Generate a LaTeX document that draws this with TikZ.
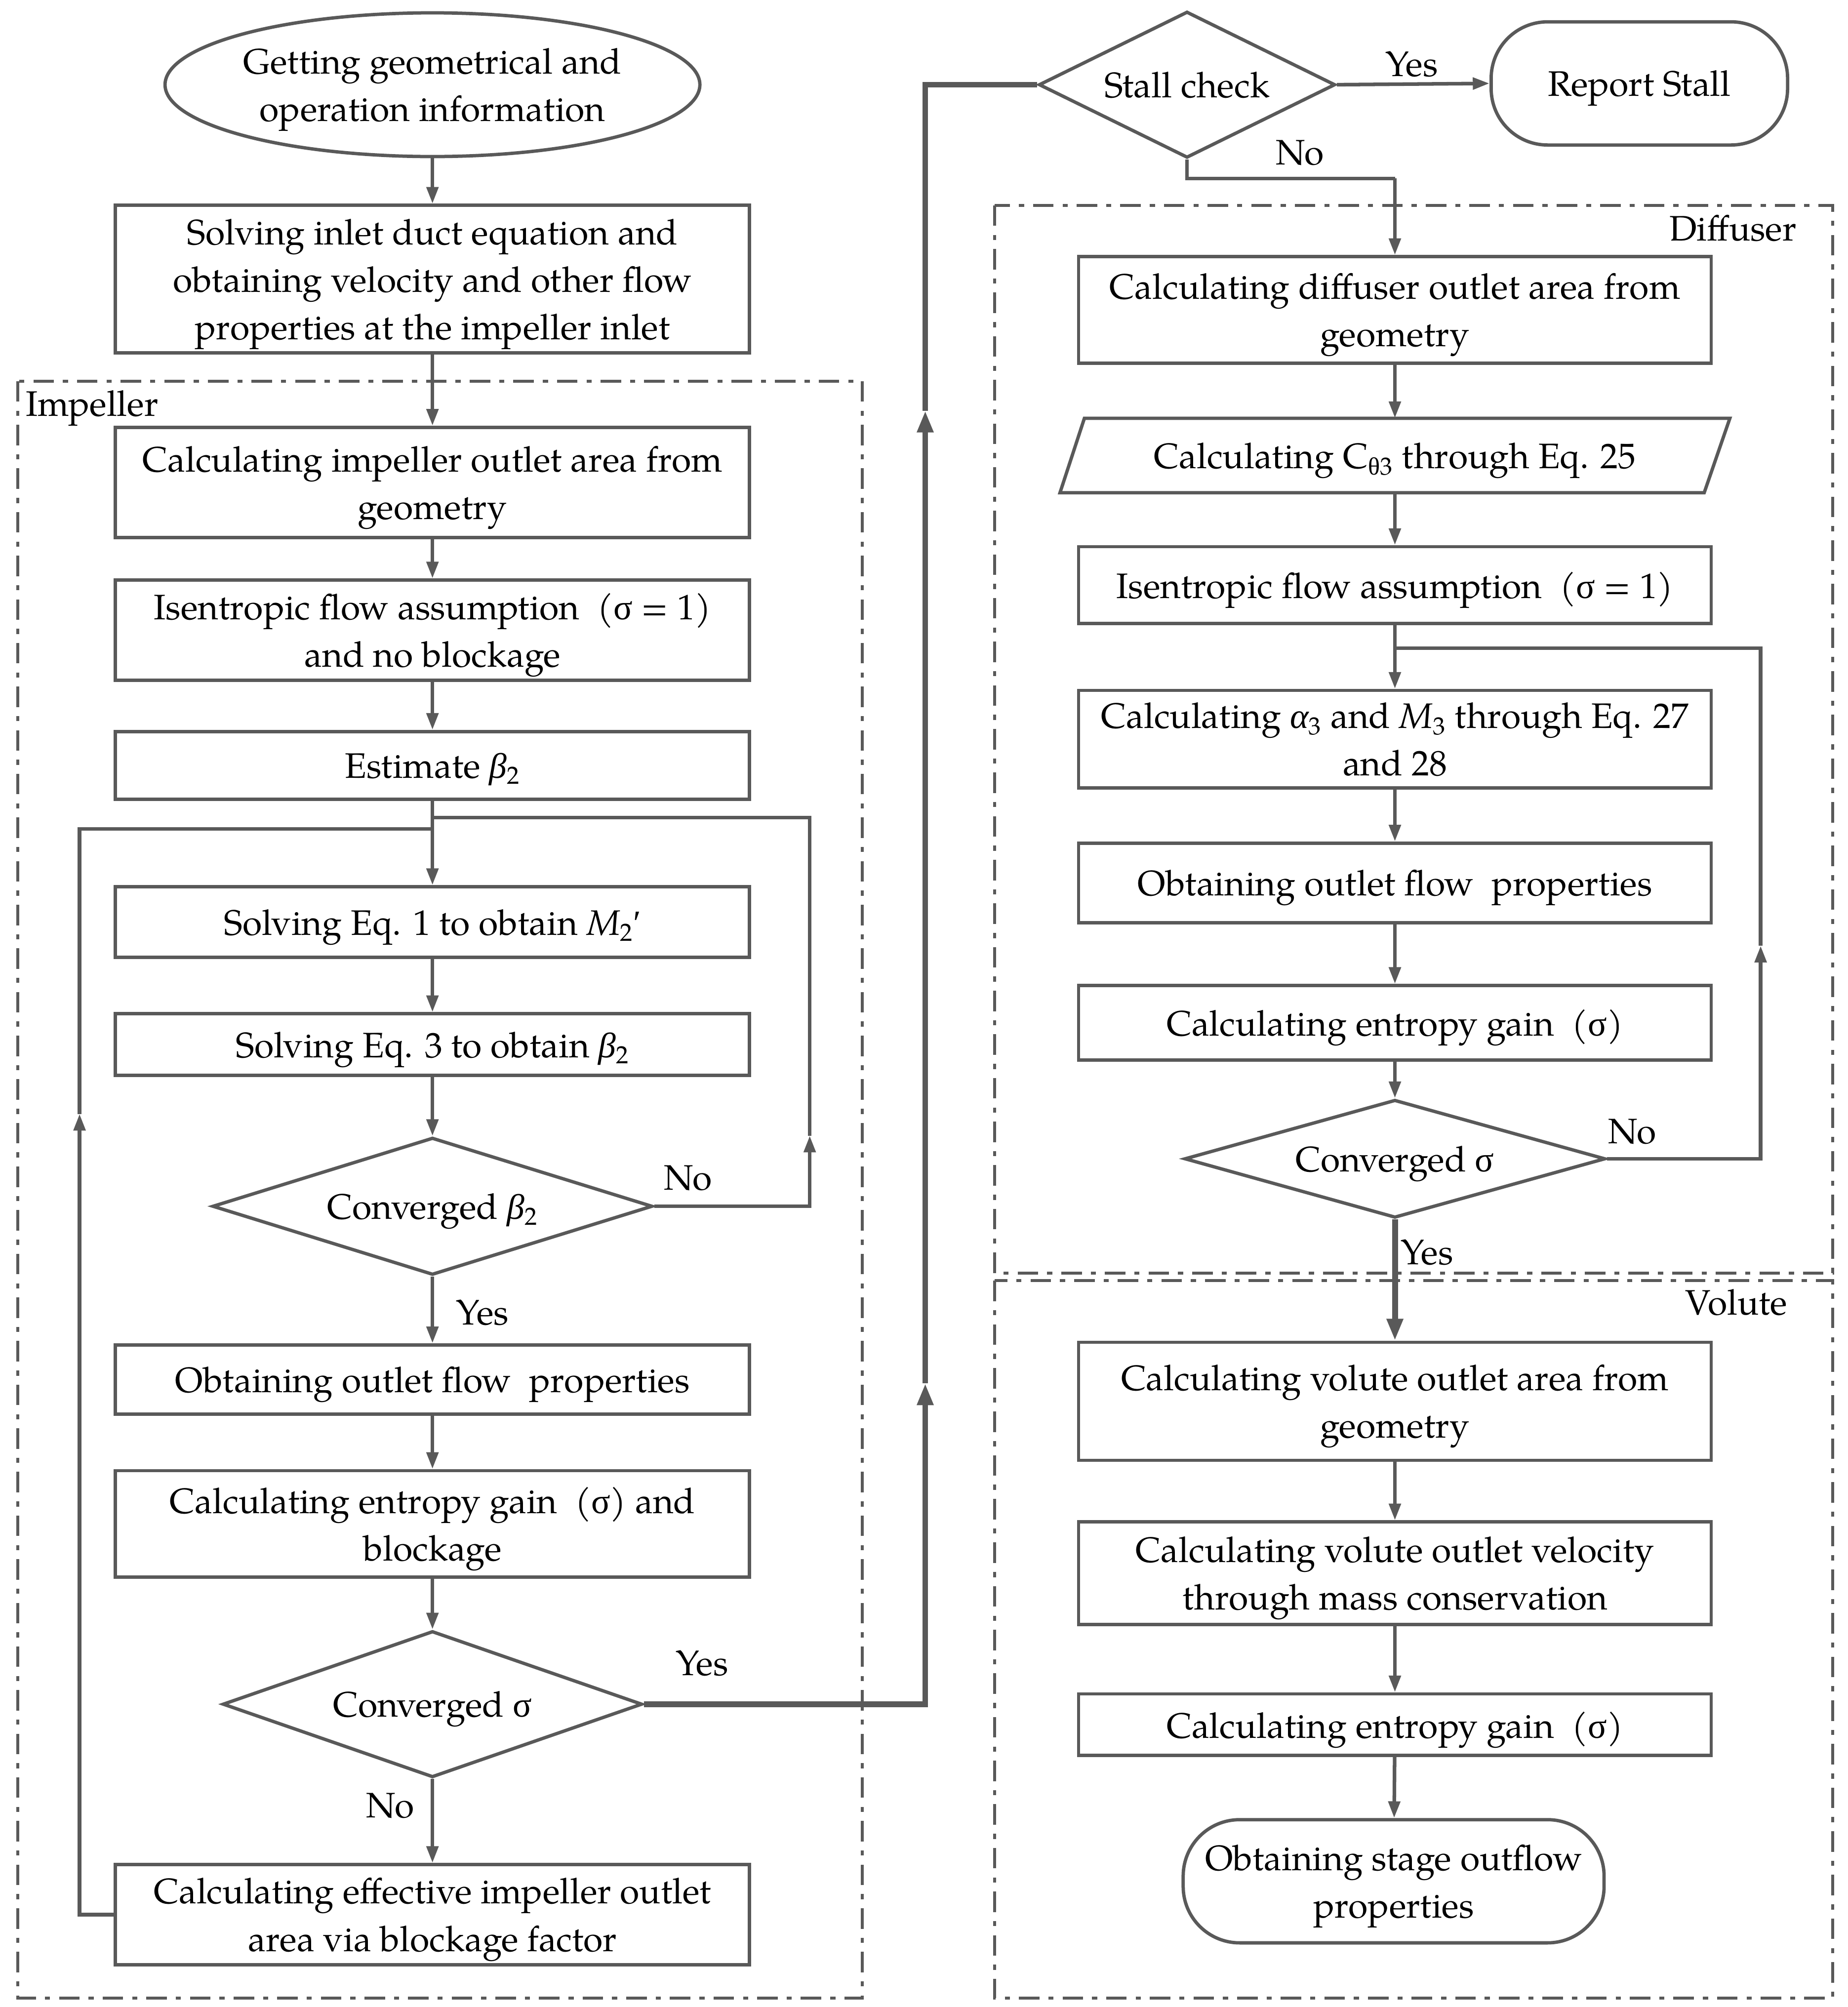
\documentclass[tikz,border=0pt]{standalone}
\usepackage{fontspec}
\setmainfont{TeX Gyre Pagella}
\newfontfamily\grk{Liberation Serif}
\usetikzlibrary{shapes.geometric,shapes.misc,arrows.meta}
\definecolor{lc}{HTML}{595959}
\newcommand{\gsig}{{\grk σ}}
\newcommand{\gbeta}{{\grk\itshape β}}
\newcommand{\galpha}{{\grk\itshape α}}
\newcommand{\gtheta}{{\grk θ}}
\newcommand{\gprime}{{\grk ′}}
\begin{document}
\begin{tikzpicture}[x=1pt,y=-1pt,
  every node/.style={font=\fontsize{27.6}{37}\selectfont},
  box/.style={draw=lc,line width=2.6pt,rectangle,minimum width=494pt,inner sep=0pt,align=center,text depth=0pt},
  dec/.style={draw=lc,line width=2.6pt,diamond,inner sep=0pt,align=center,text depth=0pt},
  term/.style={draw=lc,line width=2.6pt,rectangle,rounded corners=44pt,inner sep=0pt,align=center,text depth=0pt},
  ml/.style={text depth=-2.5pt},
  conn/.style={draw=lc,line width=2.8pt},
  thk/.style={draw=lc,line width=4.6pt},
  arrowA/.style={-{Triangle[length=13pt,width=9pt]}},
  arrowB/.style={-{Triangle[length=17pt,width=12pt]}},
  stageframe/.style={draw=lc,line width=2.4pt,dash pattern=on 16pt off 7pt on 4pt off 7pt},
  lbl/.style={inner sep=0pt}
]
\fill[white] (0,0) rectangle (1440,1564);
\useasboundingbox (0,0) rectangle (1440,1564);

% frames
\draw[stageframe] (14,297) rectangle (672,1557);
\draw[stageframe] (775,160) rectangle (1428,992);
\draw[stageframe] (775,998) rectangle (1428,1557);
\node[lbl,anchor=west] (limp) at (20,318) {Impeller};
\node[lbl,anchor=east] (ldif) at (1400,178) {Diffuser};
\node[lbl,anchor=east] (lvol) at (1393,1015) {Volute};

% left column
\node[draw=lc,line width=2.6pt,ellipse,minimum width=413pt,minimum height=112pt,inner sep=0pt,align=center,ml] (start) at (337,66) {Getting geometrical and\\operation information};
\node[box,ml,minimum height=115pt] (inlet) at (337,217.5) {Solving inlet duct equation and\\obtaining velocity and other flow\\properties at the impeller inlet};
\node[box,ml,minimum height=86pt] (impA) at (337,376) {Calculating impeller outlet area from\\geometry};
\node[box,ml,minimum height=78pt] (isen) at (337,491) {Isentropic flow assumption~ (\gsig\ = 1)\\and no blockage};
\node[box,minimum height=53pt] (est) at (337,596.5) {Estimate \gbeta\textsubscript{2}};
\node[box,minimum height=55pt] (eq1) at (337,718.5) {Solving Eq. 1 to obtain \textit{M}\textsubscript{2}\gprime};
\node[box,minimum height=48pt] (eq3) at (337,814) {Solving Eq. 3 to obtain \gbeta\textsubscript{2}};
\node[dec,minimum width=343pt,minimum height=107pt,aspect=3.2] (convb) at (337,940) {Converged \gbeta\textsubscript{2}};
\node[box,minimum height=54pt] (outl) at (337,1075) {Obtaining outlet flow~ properties};
\node[box,ml,minimum height=83pt] (ent) at (337,1187.5) {Calculating entropy gain~ (\gsig) and\\blockage};
\node[dec,minimum width=327pt,minimum height=114pt,aspect=2.9] (convs) at (337,1328) {Converged \gsig};
\node[box,ml,minimum height=78pt] (eff) at (337,1492) {Calculating effective impeller outlet\\area via blockage factor};

% right column
\node[dec,minimum width=231pt,minimum height=114pt,aspect=2] (stall) at (925,66) {Stall check};
\node[term,minimum width=231pt,minimum height=96pt,text depth=-4pt] (report) at (1277.5,65) {Report Stall};
\node[box,ml,minimum width=493pt,minimum height=83pt] (dA) at (1087,241.5) {Calculating diffuser outlet area from\\geometry};
\node[rectangle,inner sep=0pt,minimum width=503pt,minimum height=58pt,text depth=0pt] (cth) at (1087,355) {Calculating C\textsubscript{\gtheta3} through Eq. 25};
\draw[draw=lc,line width=2.6pt,line join=miter] (826,384) -- (845,326) -- (1348,326) -- (1328,384) -- cycle;
\node[box,minimum width=493pt,minimum height=60pt] (isen2) at (1087,456) {Isentropic flow assumption~ (\gsig\ = 1)};
\node[box,ml,minimum width=493pt,minimum height=76pt] (a3) at (1087,576) {Calculating \galpha\textsubscript{3} and \textit{M}\textsubscript{3} through Eq. 27\\and 28};
\node[box,minimum width=493pt,minimum height=62pt] (outl2) at (1087,688) {Obtaining outlet flow~ properties};
\node[box,minimum width=493pt,minimum height=58pt] (ent2) at (1087,797) {Calculating entropy gain~ (\gsig)};
\node[dec,minimum width=328pt,minimum height=92pt,aspect=3.6] (convs2) at (1087,903) {Converged \gsig};
\node[box,ml,minimum width=493pt,minimum height=92pt] (vA) at (1087,1092) {Calculating volute outlet area from\\geometry};
\node[box,ml,minimum width=493pt,minimum height=80pt] (vV) at (1087,1226) {Calculating volute outlet velocity\\through mass conservation};
\node[box,minimum width=493pt,minimum height=48pt] (ent3) at (1087,1344) {Calculating entropy gain~ (\gsig)};
\node[term,ml,minimum width=328pt,minimum height=96pt] (stage) at (1086,1466) {Obtaining stage outflow\\properties};

% coordinates
\coordinate (JR) at (337,637);
\coordinate (JL) at (337,646);
\coordinate (RB) at (631,940);
\coordinate (RA) at (631,885);
\coordinate (RT) at (631,637);
\coordinate (LB) at (62,1492);
\coordinate (LA) at (62,868);
\coordinate (LT) at (62,646);
\coordinate (YB) at (721,1328);
\coordinate (YA1) at (721,1078);
\coordinate (YA2) at (721,320);
\coordinate (YT) at (721,66);
\coordinate (SN1) at (925,139);
\coordinate (SN2) at (1087,139);
\coordinate (DJ) at (1087,505);
\coordinate (DB) at (1372,903);
\coordinate (DA) at (1372,737);
\coordinate (DT) at (1372,505);

% left connectors
\draw[conn,arrowA] (start) -- (inlet);
\draw[conn,arrowA] (inlet) -- (impA);
\draw[conn,arrowA] (impA) -- (isen);
\draw[conn,arrowA] (isen) -- (est);
\draw[conn,arrowA] (est) -- (eq1);
\draw[conn,arrowA] (eq1) -- (eq3);
\draw[conn,arrowA] (eq3) -- (convb);
\draw[conn,arrowA] (convb) -- (outl);
\draw[conn,arrowA] (outl) -- (ent);
\draw[conn,arrowA] (ent) -- (convs);
\draw[conn,arrowA] (convs) -- (eff);
\draw[conn,arrowA] (convb.east) -- (RB) -- (RA);
\draw[conn,line join=miter] (RA) -- (RT) -- (JR);
\draw[conn,arrowA] (eff.west) -- (LB) -- (LA);
\draw[conn,line join=miter] (LA) -- (LT) -- (JL);
\draw[thk,arrowB] (convs.east) -- (YB) -- (YA1);
\draw[thk,arrowB] (YA1) -- (YA2);
\draw[thk,line join=miter] (YA2) -- (YT) -- (stall.west);

% right connectors
\draw[conn,arrowA] (stall.east) -- (report.west);
\draw[conn,line join=miter] (stall.south) -- (SN1) -- (SN2);
\draw[conn,arrowA] (SN2) -- (dA.north);
\draw[conn,arrowA] (dA) -- (cth.north);
\draw[conn,arrowA] (cth.south) -- (isen2);
\draw[conn,arrowA] (isen2) -- (a3);
\draw[conn,arrowA] (a3) -- (outl2);
\draw[conn,arrowA] (outl2) -- (ent2);
\draw[conn,arrowA] (ent2) -- (convs2);
\draw[conn,arrowA] (convs2.east) -- (DB) -- (DA);
\draw[conn,line join=miter] (DA) -- (DT) -- (DJ);
\draw[thk,arrowB] (convs2) -- (vA);
\draw[conn,arrowA] (vA) -- (vV);
\draw[conn,arrowA] (vV) -- (ent3);
\draw[conn,arrowA] (ent3) -- (stage);

% labels
\node[lbl] (l1) at (536,918) {No};
\node[lbl] (l2) at (376,1023) {Yes};
\node[lbl] (l3) at (547,1296) {Yes};
\node[lbl] (l4) at (304,1407) {No};
\node[lbl] (l5) at (1100,50) {Yes};
\node[lbl] (l6) at (1013,119) {No};
\node[lbl] (l7) at (1272,882) {No};
\node[lbl] (l8) at (1112,976) {Yes};
\end{tikzpicture}
\end{document}
